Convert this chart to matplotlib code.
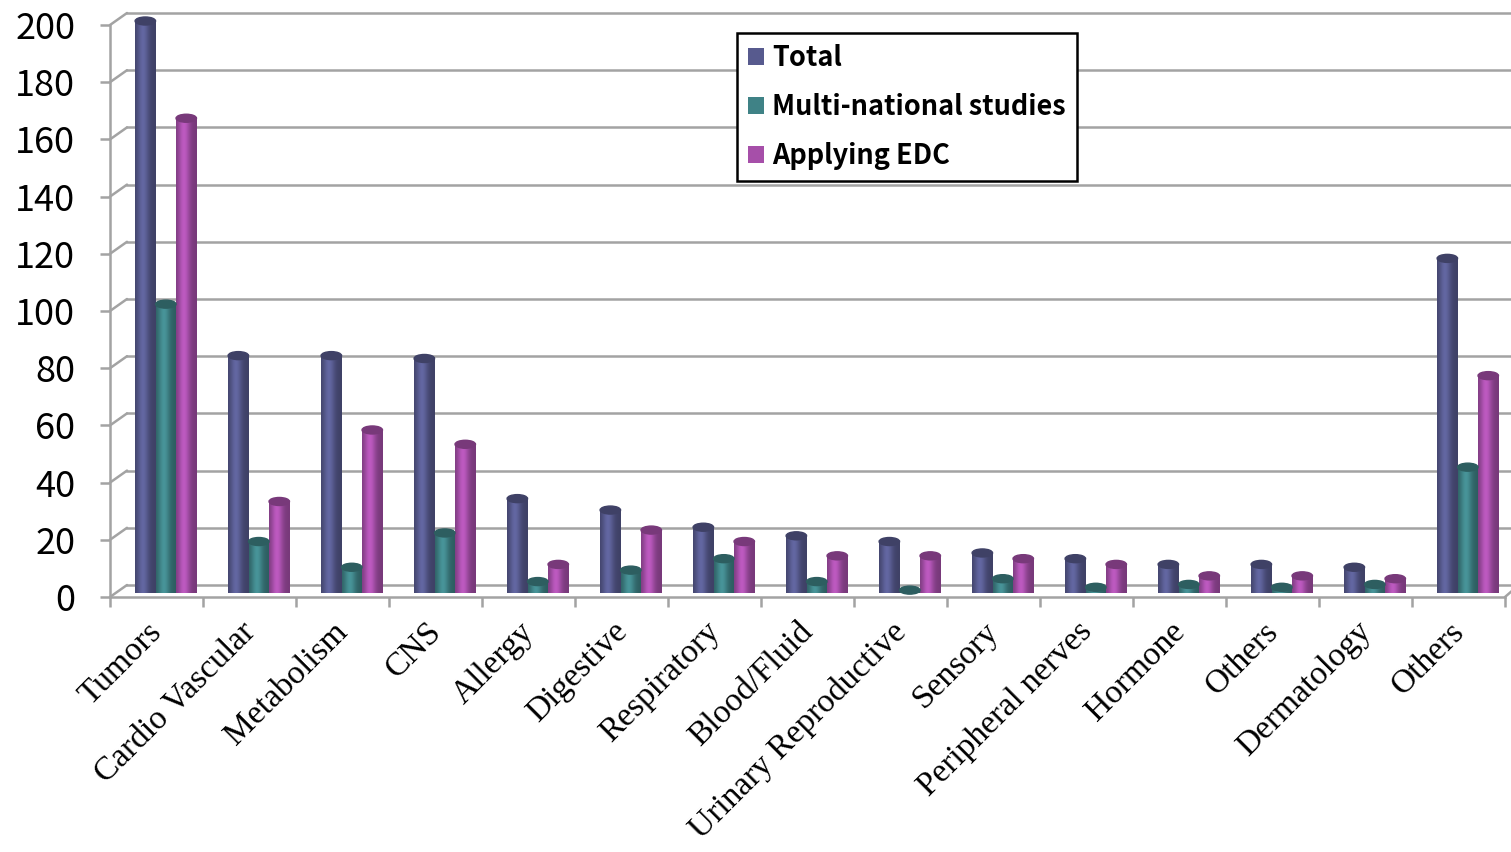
import matplotlib.pyplot as plt
import numpy as np
from matplotlib.patches import Ellipse, Patch
from matplotlib.transforms import offset_copy, ScaledTranslation

categories = ['Tumors', 'Cardio Vascular', 'Metabolism', 'CNS', 'Allergy',
              'Digestive', 'Respiratory', 'Blood/Fluid', 'Urinary Reproductive',
              'Sensory', 'Peripheral nerves', 'Hormone', 'Others', 'Dermatology',
              'Others']
total = [200, 83, 83, 82, 33, 29, 23, 20, 18, 14, 12, 10, 10, 9, 117]
multi = [101, 18, 9, 21, 4, 8, 12, 4, 1, 5, 2, 3, 2, 3, 44]
edc = [166, 32, 57, 52, 10, 22, 18, 13, 13, 12, 10, 6, 6, 5, 76]
series = ['Total', 'Multi-national studies', 'Applying EDC']
colors = ['#575a8e', '#3f8286', '#a64fa9']
yticks = np.arange(0, 201, 20)

GRID = '#a3a3a3'


def shade(color, n=64):
    # horizontal cylinder-like gradient for one bar
    base = np.array(plt.matplotlib.colors.to_rgb(color))
    t = np.linspace(0, 1, n)
    f = 0.72 + 0.42 * np.exp(-((t - 0.38) / 0.28) ** 2)
    return np.clip(base[None, None, :] * f[None, :, None], 0, 1)


fig = plt.figure(figsize=(15.11, 8.52), dpi=100)
ax = fig.add_axes([110 / 1511, 1 - 597 / 852, 1395 / 1511, 572 / 852])

# bars stand a little behind the front floor edge
raised = offset_copy(ax.transData, fig=fig, x=0, y=4, units='dots')

x = np.arange(len(categories))
w = 0.22
for k, (vals, col) in enumerate(zip([total, multi, edc], colors)):
    pos = x + 0.1 + (k - 1) * w
    bars = ax.bar(pos, vals, width=w, color=col, zorder=3)
    dark = np.array(plt.matplotlib.colors.to_rgb(col)) * 0.72
    for b, v in zip(bars, vals):
        b.set_transform(raised)
        b.set_facecolor('none')
        x0 = b.get_x()
        im = ax.imshow(shade(col), extent=(x0, x0 + w, 0, v), aspect='auto',
                       zorder=3, interpolation='bilinear')
        im.set_transform(raised)
        im.set_clip_path(b)
        ax.add_patch(Ellipse((x0 + w / 2, v), w, 2.8, color=dark, zorder=4,
                             transform=raised, clip_on=False))

ax.set_xlim(-0.5, len(categories) - 0.5)
ax.set_ylim(0, 200)

# back wall gridlines, shifted for the 3D look
back = offset_copy(ax.transData, fig=fig, x=17, y=12, units='dots')
for v in yticks:
    ax.plot([-0.5, len(categories) + 0.5], [v, v], color=GRID, lw=1.8,
            transform=back, zorder=1, clip_on=False)
    ax.annotate('', xy=(-0.5, v), xytext=(17, 12), textcoords='offset pixels',
                arrowprops=dict(arrowstyle='-', color=GRID, lw=1.8,
                                shrinkA=0, shrinkB=0), annotation_clip=False)
ax.annotate('', xy=(len(categories) - 0.5, 0), xytext=(8, 7),
            textcoords='offset pixels',
            arrowprops=dict(arrowstyle='-', color=GRID, lw=1.8,
                            shrinkA=0, shrinkB=0), annotation_clip=False)

for s in ['top', 'right']:
    ax.spines[s].set_visible(False)
for s in ['left', 'bottom']:
    ax.spines[s].set_color(GRID)
    ax.spines[s].set_linewidth(1.8)

ax.set_yticks(yticks)
ax.set_yticklabels([str(v) for v in yticks], fontsize=26,
                   family=['Noto Sans CJK JP', 'DejaVu Sans'])
ax.tick_params(axis='y', length=7, width=1.8, color=GRID, pad=18)

ax.set_xticks(x)
ax.set_xticklabels(categories, rotation=45, ha='right', va='top',
                   rotation_mode='anchor', fontsize=24, family='Liberation Serif')
ax.set_xticks(np.arange(-0.5, len(categories)), minor=True)
ax.tick_params(axis='x', which='major', length=0, pad=14)
ax.tick_params(axis='x', which='minor', length=7, width=1.8, color=GRID)
shift = ScaledTranslation(-10 / 100, 0, fig.dpi_scale_trans)
for lab in ax.get_xticklabels():
    lab.set_transform(lab.get_transform() + shift)

handles = [Patch(facecolor=c, edgecolor='none') for c in colors]
leg = ax.legend(handles, series, loc='upper left',
                bbox_to_anchor=(737 / 1511, 1 - 33 / 852),
                bbox_transform=fig.transFigure, fancybox=False, framealpha=1,
                edgecolor='black', handlelength=0.6,
                handleheight=0.6, handletextpad=0.3, labelspacing=0.78,
                borderpad=0.4, borderaxespad=0,
                prop={'family': ['Noto Sans CJK JP', 'DejaVu Sans'],
                      'size': 19.5, 'weight': 'bold'})
leg.get_frame().set_linewidth(1.8)
leg.set_zorder(10)

fig.savefig('out.png', dpi=100)
